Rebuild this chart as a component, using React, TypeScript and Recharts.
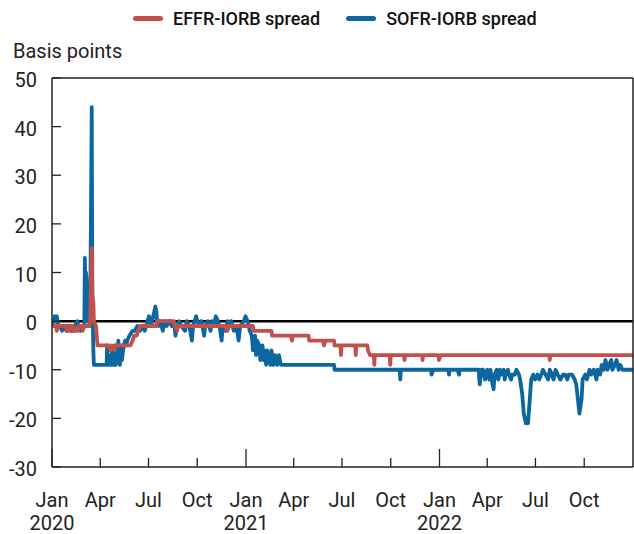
import { LineChart, Line, XAxis, YAxis, ReferenceLine } from "recharts";

// EFFR minus interest on reserve balances, basis points
const effrSpread: [string, number][] = [
  ["2020-01-01", -1], ["2020-01-09", -1], ["2020-01-10", -2], ["2020-01-13", -1],
  ["2020-01-28", -1], ["2020-01-29", -2], ["2020-02-03", -2], ["2020-02-04", -1],
  ["2020-02-10", -1], ["2020-02-11", -2], ["2020-02-19", -2], ["2020-02-20", -1],
  ["2020-02-27", -1], ["2020-02-28", -2], ["2020-03-02", -1], ["2020-03-12", -1],
  ["2020-03-13", 0], ["2020-03-16", 15], ["2020-03-17", 5], ["2020-03-19", 4],
  ["2020-03-20", 0], ["2020-03-24", -1], ["2020-03-26", -4], ["2020-03-27", -5],
  ["2020-04-17", -5], ["2020-04-20", -6], ["2020-04-23", -5], ["2020-04-28", -6],
  ["2020-04-29", -5], ["2020-05-28", -5], ["2020-06-01", -4], ["2020-06-04", -3],
  ["2020-06-09", -3], ["2020-06-11", -2], ["2020-06-16", -1], ["2020-07-16", -1],
  ["2020-07-17", 0], ["2020-08-18", 0], ["2020-08-20", -1], ["2020-08-24", -2],
  ["2020-08-26", -1], ["2020-11-24", -1], ["2020-11-25", -2], ["2020-11-27", -2],
  ["2020-11-30", -1], ["2021-01-14", -1], ["2021-01-15", -2], ["2021-02-18", -2],
  ["2021-02-19", -3], ["2021-03-26", -3], ["2021-03-29", -4], ["2021-03-30", -3],
  ["2021-04-29", -3], ["2021-04-30", -4], ["2021-05-27", -4], ["2021-05-28", -5],
  ["2021-05-31", -4], ["2021-06-16", -4], ["2021-06-17", -5], ["2021-06-28", -5],
  ["2021-06-29", -7], ["2021-06-30", -5], ["2021-07-26", -5], ["2021-07-27", -7],
  ["2021-07-28", -5], ["2021-08-18", -5], ["2021-08-19", -6], ["2021-08-23", -7],
  ["2021-08-30", -7], ["2021-08-31", -9], ["2021-09-01", -7], ["2021-09-29", -7],
  ["2021-09-30", -9], ["2021-10-01", -7], ["2021-10-26", -7], ["2021-10-27", -8],
  ["2021-10-28", -7], ["2021-11-29", -7], ["2021-11-30", -8], ["2021-12-01", -7],
  ["2021-12-30", -7], ["2021-12-31", -8], ["2022-01-03", -7], ["2022-07-27", -7],
  ["2022-07-28", -8], ["2022-07-29", -7], ["2022-12-30", -7],
];

// SOFR minus interest on reserve balances, basis points
const sofrSpread: [string, number][] = [
  ["2020-01-01", 0], ["2020-01-03", -1], ["2020-01-06", 1], ["2020-01-08", 0],
  ["2020-01-10", 1], ["2020-01-13", -1], ["2020-01-16", -1], ["2020-01-20", -2],
  ["2020-01-24", -1], ["2020-01-28", -2], ["2020-01-31", -1], ["2020-02-04", -1],
  ["2020-02-06", -2], ["2020-02-10", -2], ["2020-02-13", -1], ["2020-02-18", 0],
  ["2020-02-20", -1], ["2020-02-24", -2], ["2020-02-27", -1], ["2020-03-02", -1],
  ["2020-03-03", 13], ["2020-03-04", 6], ["2020-03-05", 10], ["2020-03-06", 9],
  ["2020-03-09", 0], ["2020-03-10", 1], ["2020-03-12", -1], ["2020-03-13", 0],
  ["2020-03-16", 44], ["2020-03-17", 8], ["2020-03-18", 0], ["2020-03-19", -6],
  ["2020-03-20", -9], ["2020-04-13", -9], ["2020-04-14", -5], ["2020-04-15", -9],
  ["2020-04-17", -7], ["2020-04-20", -9], ["2020-04-22", -9], ["2020-04-23", -6],
  ["2020-04-24", -9], ["2020-04-27", -9], ["2020-04-28", -5], ["2020-04-29", -8],
  ["2020-04-30", -9], ["2020-05-04", -6], ["2020-05-05", -4], ["2020-05-06", -8],
  ["2020-05-08", -9], ["2020-05-11", -5], ["2020-05-12", -8], ["2020-05-14", -6],
  ["2020-05-18", -4], ["2020-05-20", -5], ["2020-05-22", -4], ["2020-05-26", -3],
  ["2020-06-01", -2], ["2020-06-05", -2], ["2020-06-10", -1], ["2020-06-15", -2],
  ["2020-06-19", -1], ["2020-06-24", -2], ["2020-06-29", 0], ["2020-07-02", 1],
  ["2020-07-06", -1], ["2020-07-10", 1], ["2020-07-14", 3], ["2020-07-16", 2],
  ["2020-07-17", 0], ["2020-07-20", -1], ["2020-07-23", 0], ["2020-07-28", -2],
  ["2020-07-31", 0], ["2020-08-04", -1], ["2020-08-10", 0], ["2020-08-14", -1],
  ["2020-08-19", -1], ["2020-08-21", -3], ["2020-08-24", -1], ["2020-08-28", 0],
  ["2020-09-01", -1], ["2020-09-08", -2], ["2020-09-11", 0], ["2020-09-16", -1],
  ["2020-09-21", -4], ["2020-09-23", -1], ["2020-09-29", 1], ["2020-10-01", 0],
  ["2020-10-06", -1], ["2020-10-09", 0], ["2020-10-14", -3], ["2020-10-16", -1],
  ["2020-10-21", 0], ["2020-10-26", -2], ["2020-10-29", 0], ["2020-11-02", -1],
  ["2020-11-05", 1], ["2020-11-09", 0], ["2020-11-12", -1], ["2020-11-16", -4],
  ["2020-11-18", -1], ["2020-11-23", -2], ["2020-11-27", 0], ["2020-12-01", -1],
  ["2020-12-04", 0], ["2020-12-09", -2], ["2020-12-14", -1], ["2020-12-18", -4],
  ["2020-12-21", -1], ["2020-12-28", 0], ["2020-12-31", 1], ["2021-01-04", 0],
  ["2021-01-08", -2], ["2021-01-12", -3], ["2021-01-14", -6], ["2021-01-18", -3],
  ["2021-01-20", -7], ["2021-01-22", -4], ["2021-01-26", -5], ["2021-01-28", -8],
  ["2021-02-01", -5], ["2021-02-03", -8], ["2021-02-05", -6], ["2021-02-08", -9],
  ["2021-02-10", -6], ["2021-02-12", -7], ["2021-02-16", -9], ["2021-02-18", -6],
  ["2021-02-22", -9], ["2021-02-25", -7], ["2021-03-01", -9], ["2021-03-04", -7],
  ["2021-03-08", -9], ["2021-06-16", -9], ["2021-06-17", -10], ["2021-10-18", -10],
  ["2021-10-19", -12], ["2021-10-20", -10], ["2021-12-16", -10], ["2021-12-17", -11],
  ["2021-12-20", -10], ["2022-01-18", -10], ["2022-01-19", -11], ["2022-01-20", -10],
  ["2022-02-04", -10], ["2022-02-07", -11], ["2022-02-08", -10], ["2022-03-16", -10],
  ["2022-03-17", -12], ["2022-03-18", -13], ["2022-03-21", -10], ["2022-03-24", -10],
  ["2022-03-28", -12], ["2022-03-30", -11], ["2022-04-01", -10], ["2022-04-05", -12],
  ["2022-04-07", -10], ["2022-04-11", -13], ["2022-04-13", -14], ["2022-04-15", -11],
  ["2022-04-19", -10], ["2022-04-22", -12], ["2022-04-25", -10], ["2022-04-27", -11],
  ["2022-05-02", -10], ["2022-05-04", -12], ["2022-05-06", -11], ["2022-05-10", -10],
  ["2022-05-12", -11], ["2022-05-16", -12], ["2022-05-18", -11], ["2022-05-23", -11],
  ["2022-05-26", -10], ["2022-05-31", -11], ["2022-06-02", -12], ["2022-06-06", -15],
  ["2022-06-09", -19], ["2022-06-13", -21], ["2022-06-15", -20], ["2022-06-17", -21],
  ["2022-06-21", -15], ["2022-06-23", -12], ["2022-06-27", -11], ["2022-06-30", -12],
  ["2022-07-05", -11], ["2022-07-08", -12], ["2022-07-12", -11], ["2022-07-15", -10],
  ["2022-07-20", -11], ["2022-07-25", -12], ["2022-07-28", -10], ["2022-08-01", -11],
  ["2022-08-04", -12], ["2022-08-08", -10], ["2022-08-12", -11], ["2022-08-17", -12],
  ["2022-08-22", -11], ["2022-08-26", -11], ["2022-08-30", -12], ["2022-09-02", -11],
  ["2022-09-08", -11], ["2022-09-13", -12], ["2022-09-16", -13], ["2022-09-20", -17],
  ["2022-09-22", -19], ["2022-09-26", -16], ["2022-09-28", -12], ["2022-10-03", -11],
  ["2022-10-06", -12], ["2022-10-11", -10], ["2022-10-14", -11], ["2022-10-19", -10],
  ["2022-10-24", -12], ["2022-10-26", -10], ["2022-10-31", -11], ["2022-11-03", -9],
  ["2022-11-07", -10], ["2022-11-10", -8], ["2022-11-14", -10], ["2022-11-17", -9],
  ["2022-11-21", -8], ["2022-11-23", -10], ["2022-11-28", -9], ["2022-12-01", -8],
  ["2022-12-05", -10], ["2022-12-08", -9], ["2022-12-12", -10], ["2022-12-30", -10],
];

const xTickDates = [
  "2020-01-01", "2020-04-01", "2020-07-01", "2020-10-01",
  "2021-01-01", "2021-04-01", "2021-07-01", "2021-10-01",
  "2022-01-01", "2022-04-01", "2022-07-01", "2022-10-01",
];
const yTicks = [-30, -20, -10, 0, 10, 20, 30, 40, 50];
const monthNames = ["Jan", "Feb", "Mar", "Apr", "May", "Jun", "Jul", "Aug", "Sep", "Oct", "Nov", "Dec"];

const RED = "#c4504c";
const BLUE = "#0c67a0";
const FONT = "Roboto, sans-serif";
const TEXT = "#222";

const toPoints = (rows: [string, number][]) => rows.map(([d, v]) => ({ t: Date.parse(d), v }));
const effrData = toPoints(effrSpread);
const sofrData = toPoints(sofrSpread);

const legendItems = [
  { name: "EFFR-IORB spread", color: RED },
  { name: "SOFR-IORB spread", color: BLUE },
];

function DateTick(props: any) {
  const { x, y, payload } = props;
  const d = new Date(payload.value);
  const isJan = d.getUTCMonth() === 0;
  return (
    <g>
      <line x1={x} x2={x} y1={y} y2={y - (isJan ? 18 : 9)} stroke="#222" strokeWidth={1.3} />
      <text x={x} y={y + 40} textAnchor="middle" fill={TEXT} fontSize={20} fontFamily={FONT}>
        <tspan x={x}>{monthNames[d.getUTCMonth()]}</tspan>
        {isJan && (
          <tspan x={x} dy={23}>
            {d.getUTCFullYear()}
          </tspan>
        )}
      </text>
    </g>
  );
}

function LeftTick(props: any) {
  const { x, y, payload } = props;
  return (
    <g>
      <line x1={x} x2={x + 9} y1={y} y2={y} stroke="#222" strokeWidth={1.3} />
      <text x={x - 15} y={y} dy={9} textAnchor="end" fill={TEXT} fontSize={20} fontFamily={FONT}>
        {payload.value}
      </text>
    </g>
  );
}

function RightTick(props: any) {
  const { x, y } = props;
  return <line x1={x} x2={x - 9} y1={y} y2={y} stroke="#222" strokeWidth={1.3} />;
}

export default function App() {
  return (
    <div style={{ position: "absolute", left: 0, top: 0, width: 634, height: 534, overflow: "hidden", background: "#fff" }}>
      <div
        style={{
          position: "absolute",
          left: 133,
          top: 8,
          display: "flex",
          alignItems: "center",
          fontFamily: FONT,
          fontSize: 18,
          fontWeight: 500,
          color: "#111",
        }}
      >
        {legendItems.map((item) => (
          <div key={item.name} style={{ display: "flex", alignItems: "center", marginRight: 26 }}>
            <span style={{ display: "inline-block", width: 30, height: 5, borderRadius: 3, background: item.color, marginRight: 10 }} />
            <span>{item.name}</span>
          </div>
        ))}
      </div>
      <div style={{ position: "absolute", left: 13, top: 39, fontFamily: FONT, fontSize: 20, color: TEXT }}>
        Basis points
      </div>
      <LineChart width={634} height={534} margin={{ top: 78, right: 0, bottom: 0, left: 0 }}>
        <XAxis
          type="number"
          dataKey="t"
          domain={[Date.parse("2020-01-01"), Date.parse("2023-01-01")]}
          ticks={xTickDates.map((d) => Date.parse(d))}
          interval={0}
          height={67}
          tickSize={0}
          tickMargin={0}
          tick={<DateTick />}
          axisLine={{ stroke: "#222", strokeWidth: 1.5 }}
          allowDataOverflow
        />
        <YAxis
          yAxisId="left"
          domain={[-30, 50]}
          ticks={yTicks}
          interval={0}
          width={52}
          tickSize={0}
          tickMargin={0}
          tick={<LeftTick />}
          axisLine={{ stroke: "#222", strokeWidth: 1.5 }}
        />
        <YAxis
          yAxisId="right"
          orientation="right"
          domain={[-30, 50]}
          ticks={yTicks}
          interval={0}
          width={1}
          tickSize={0}
          tickMargin={0}
          tick={<RightTick />}
          axisLine={{ stroke: "#222", strokeWidth: 1.5 }}
        />
        <ReferenceLine yAxisId="left" y={50} stroke="#222" strokeWidth={1.5} />
        <ReferenceLine yAxisId="left" y={0} stroke="#000" strokeWidth={2.5} />
        <Line
          yAxisId="left"
          data={sofrData}
          dataKey="v"
          type="linear"
          stroke={BLUE}
          strokeWidth={3.8}
          dot={false}
          strokeLinejoin="round"
          strokeLinecap="round"
          name="SOFR-IORB spread"
          isAnimationActive={false}
        />
        <Line
          yAxisId="left"
          data={effrData}
          dataKey="v"
          type="linear"
          stroke={RED}
          strokeWidth={3.8}
          dot={false}
          strokeLinejoin="round"
          strokeLinecap="round"
          name="EFFR-IORB spread"
          isAnimationActive={false}
        />
      </LineChart>
    </div>
  );
}
